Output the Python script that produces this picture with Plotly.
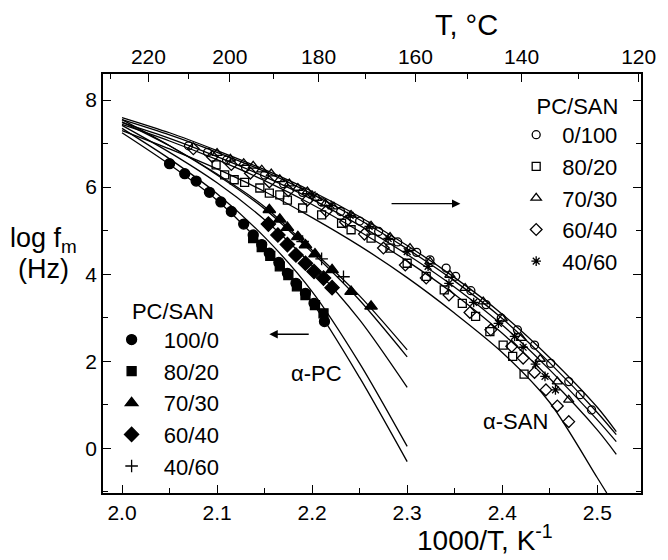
import plotly.graph_objects as go

FONT = "Liberation Sans, Arial, sans-serif"
NB = "\u00a0"

# ---------------- data ----------------
# fitted curves (alpha-PC family)
pc_line_x = [2.0, 2.05, 2.1, 2.15, 2.2, 2.25, 2.3]
pc_line_100_0 = [7.25, 6.52, 5.70, 4.62, 3.35, 1.62, -0.31]
pc_line_80_20 = [7.35, 6.65, 5.85, 4.85, 3.60, 1.95, 0.04]
pc_line_70_30 = [7.50, 6.95, 6.30, 5.55, 4.55, 3.50, 2.26]
pc_line_60_40 = [7.42, 6.80, 6.10, 5.25, 4.20, 2.95, 1.40]
pc_line_40_60 = [7.55, 6.95, 6.28, 5.50, 4.50, 3.40, 2.10]

# fitted curves (alpha-SAN family)
san_line_x = [2.0, 2.05, 2.1, 2.15, 2.2, 2.25, 2.3, 2.35, 2.4, 2.45, 2.5, 2.52]
san_line_0_100 = [7.60, 7.25, 6.84, 6.40, 5.90, 5.32, 4.66, 3.92, 3.08, 2.08, 0.94, 0.38]
san_line_70_30 = [7.55, 7.20, 6.80, 6.36, 5.84, 5.25, 4.58, 3.84, 2.98, 1.96, 0.82, 0.31]
san_line_40_60 = [7.48, 7.12, 6.70, 6.24, 5.72, 5.12, 4.45, 3.70, 2.83, 1.80, 0.65, 0.15]
san_line_60_40 = [7.44, 7.06, 6.63, 6.15, 5.60, 4.98, 4.30, 3.53, 2.64, 1.60, 0.42, -0.14]
san_line_80_20_x = [2.0, 2.05, 2.1, 2.15, 2.2, 2.25, 2.3, 2.35, 2.4, 2.45, 2.5, 2.51]
san_line_80_20 = [7.30, 6.88, 6.42, 5.90, 5.30, 4.65, 3.92, 3.10, 2.20, 1.05, -0.68, -1.03]

# alpha-PC data (filled symbols)
pc100_x = [2.050, 2.066, 2.078, 2.092, 2.104, 2.115, 2.128, 2.138, 2.147, 2.155, 2.165, 2.174, 2.183, 2.193, 2.202, 2.213]
pc100_y = [6.54, 6.31, 6.14, 5.88, 5.66, 5.44, 5.15, 4.90, 4.68, 4.48, 4.27, 4.02, 3.79, 3.56, 3.33, 2.91]
pc80_x = [2.138, 2.147, 2.156, 2.166, 2.175, 2.184, 2.193, 2.203, 2.212]
pc80_y = [4.83, 4.62, 4.42, 4.18, 3.98, 3.72, 3.52, 3.29, 3.10]
pc70_x = [2.155, 2.166, 2.174, 2.185, 2.193, 2.203, 2.221, 2.241, 2.262]
pc70_y = [5.48, 5.26, 5.07, 4.86, 4.67, 4.46, 4.10, 3.60, 3.26]
pc60_x = [2.154, 2.164, 2.174, 2.183, 2.193, 2.202, 2.212, 2.221]
pc60_y = [5.15, 4.90, 4.68, 4.44, 4.25, 4.06, 3.91, 3.69]
pc40_x = [2.190, 2.210, 2.233]
pc40_y = [4.75, 4.35, 3.94]

# alpha-SAN data (open symbols)
san0_x = [2.070, 2.090, 2.110, 2.130, 2.150, 2.170, 2.190, 2.210, 2.230, 2.250, 2.270, 2.290, 2.310,
          2.324, 2.341, 2.351, 2.367, 2.383, 2.399, 2.416, 2.434, 2.451, 2.470, 2.482, 2.494]
san0_y = [6.95, 6.80, 6.62, 6.45, 6.28, 6.08, 5.88, 5.66, 5.44, 5.22, 4.98, 4.74, 4.50,
          4.33, 4.14, 3.95, 3.62, 3.30, 2.99, 2.72, 2.37, 1.95, 1.53, 1.23, 0.88]
san80_x = [2.099, 2.108, 2.118, 2.129, 2.145, 2.155, 2.166, 2.174, 2.190, 2.210, 2.231, 2.241,
           2.262, 2.282, 2.300, 2.320, 2.339, 2.358, 2.372, 2.387, 2.401, 2.411, 2.423]
san80_y = [6.51, 6.28, 6.17, 6.11, 5.98, 5.86, 5.82, 5.70, 5.52, 5.36, 5.17, 5.02,
           4.83, 4.60, 4.25, 3.95, 3.64, 3.33, 3.03, 2.68, 2.37, 2.11, 1.70]
san70_x = [2.100, 2.114, 2.128, 2.138, 2.147, 2.157, 2.166, 2.176, 2.185, 2.195, 2.205, 2.214, 2.222,
           2.241, 2.262, 2.282, 2.303, 2.324, 2.345, 2.361, 2.380, 2.400, 2.420, 2.440, 2.458, 2.470]
san70_y = [6.78, 6.65, 6.55, 6.49, 6.40, 6.31, 6.18, 6.08, 5.98, 5.90, 5.75, 5.62, 5.55,
           5.36, 5.11, 4.85, 4.60, 4.29, 3.98, 3.68, 3.37, 2.98, 2.53, 2.05, 1.53, 1.11]
san60_x = [2.075, 2.095, 2.115, 2.135, 2.155, 2.175, 2.195, 2.215, 2.235, 2.255, 2.275, 2.298,
           2.320, 2.344, 2.366, 2.388, 2.410, 2.422, 2.434, 2.446, 2.458, 2.470]
san60_y = [6.88, 6.70, 6.52, 6.32, 6.12, 5.92, 5.70, 5.45, 5.20, 4.92, 4.60, 4.21,
           3.91, 3.52, 3.12, 2.72, 2.34, 2.07, 1.74, 1.34, 0.97, 0.61]
san40_x = [2.200, 2.220, 2.240, 2.260, 2.280, 2.300, 2.322, 2.344, 2.370, 2.396, 2.413, 2.422, 2.435, 2.445, 2.456]
san40_y = [5.82, 5.58, 5.35, 5.10, 4.82, 4.52, 4.18, 3.79, 3.35, 2.87, 2.57, 2.32, 1.93, 1.65, 1.34]

# axis ticks
x_tickvals = [2.0, 2.1, 2.2, 2.3, 2.4, 2.5]
x_ticktext = ["2.0", "2.1", "2.2", "2.3", "2.4", "2.5"]
y_tickvals = [0, 2, 4, 6, 8]
top_T_major = [220, 200, 180, 160, 140, 120]
top_T_minor = [230, 210, 190, 170, 150, 130]

X_RANGE = [1.98, 2.546]
Y_RANGE = [-1.03, 8.6]

# ---------------- figure ----------------
fig = go.Figure()

line_style = dict(color="black", width=1.3, shape="spline", smoothing=0.8)
for xs, ys in [(pc_line_x, pc_line_100_0), (pc_line_x, pc_line_80_20), (pc_line_x, pc_line_70_30),
               (pc_line_x, pc_line_60_40), (pc_line_x, pc_line_40_60),
               (san_line_x, san_line_70_30), (san_line_x, san_line_40_60),
               (san_line_x, san_line_60_40), (san_line_80_20_x, san_line_80_20)]:
    fig.add_trace(go.Scatter(x=xs, y=ys, mode="lines", line=line_style,
                             showlegend=False, hoverinfo="skip"))
# one curve drawn on the top (temperature) axis so that it is rendered
fig.add_trace(go.Scatter(x=san_line_x, y=san_line_0_100, mode="lines", line=line_style,
                         xaxis="x2", yaxis="y", showlegend=False, hoverinfo="skip"))

open_series = [
    ("0/100", san0_x, san0_y, "circle-open", 8),
    ("80/20", san80_x, san80_y, "square-open", 8),
    ("70/30", san70_x, san70_y, "triangle-up-open", 9),
    ("60/40", san60_x, san60_y, "diamond-open", 9),
    ("40/60", san40_x, san40_y, "asterisk-open", 8),
]
for name, xs, ys, sym, sz in open_series:
    fig.add_trace(go.Scatter(x=xs, y=ys, mode="markers", name=NB + name, legend="legend",
                             marker=dict(symbol=sym, size=sz, color="black",
                                         line=dict(color="black", width=1.3))))

filled_series = [
    ("100/0", pc100_x, pc100_y, "circle", 10),
    ("80/20", pc80_x, pc80_y, "square", 9),
    ("70/30", pc70_x, pc70_y, "triangle-up", 11),
    ("60/40", pc60_x, pc60_y, "diamond", 11),
    ("40/60", pc40_x, pc40_y, "cross-thin-open", 9),
]
for name, xs, ys, sym, sz in filled_series:
    fig.add_trace(go.Scatter(x=xs, y=ys, mode="markers", name=NB * 2 + name, legend="legend2",
                             marker=dict(symbol=sym, size=sz, color="black",
                                         line=dict(color="black", width=1.3))))

tick_font = dict(family=FONT, size=21, color="black")
axis_common = dict(showline=True, linecolor="black", linewidth=1.5, showgrid=False,
                   zeroline=False, ticks="inside", ticklen=8, tickwidth=1.3,
                   tickcolor="black", tickfont=tick_font)

top_major_vals = [1000.0 / (t + 273.15) for t in top_T_major]
top_minor_vals = [1000.0 / (t + 273.15) for t in top_T_minor]

legend_font = dict(family=FONT, size=22, color="black")

fig.update_layout(
    width=668, height=560,
    margin=dict(l=103, r=16, t=74, b=67),
    paper_bgcolor="white", plot_bgcolor="white",
    font=dict(family=FONT, color="black"),
    xaxis=dict(range=X_RANGE, tickvals=x_tickvals, ticktext=x_ticktext,
               minor=dict(dtick=0.05, tick0=2.0, ticks="inside", ticklen=5, tickwidth=1.2,
                          tickcolor="black"),
               **axis_common),
    xaxis2=dict(range=X_RANGE, overlaying="x", side="top", tickmode="array",
                tickvals=top_major_vals, ticktext=[str(t) for t in top_T_major],
                minor=dict(tickmode="array", tickvals=top_minor_vals, ticks="inside",
                           ticklen=5, tickwidth=1.2, tickcolor="black"),
                **axis_common),
    yaxis=dict(range=Y_RANGE, tickvals=y_tickvals, mirror="ticks",
               minor=dict(dtick=1, tick0=0, ticks="inside", ticklen=5, tickwidth=1.2,
                          tickcolor="black"),
               **axis_common),
    legend=dict(x=0.768, y=0.973, xanchor="left", yanchor="top",
                title=dict(text=NB * 3 + "PC/SAN", font=legend_font),
                font=legend_font, bgcolor="rgba(0,0,0,0)",
                itemsizing="trace", tracegroupgap=0),
    legend2=dict(x=0.016, y=0.484, xanchor="left", yanchor="top",
                 title=dict(text=NB * 3 + "PC/SAN", font=legend_font),
                 font=legend_font, bgcolor="rgba(0,0,0,0)",
                 itemsizing="trace", tracegroupgap=0),
    annotations=[
        dict(text="1000/T, K<sup>-1</sup>", xref="paper", yref="paper", x=0.71, y=-0.108,
             xanchor="center", yanchor="middle", showarrow=False,
             font=dict(size=28, family=FONT)),
        dict(text="T, °C", xref="paper", yref="paper", x=0.676, y=1.117,
             xanchor="center", yanchor="middle", showarrow=False,
             font=dict(size=29, family=FONT)),
        dict(text="log f<sub>m</sub>", xref="paper", yref="paper", x=-0.111, y=0.605,
             xanchor="center", yanchor="middle", showarrow=False,
             font=dict(size=27, family=FONT)),
        dict(text="(Hz)", xref="paper", yref="paper", x=-0.111, y=0.535,
             xanchor="center", yanchor="middle", showarrow=False,
             font=dict(size=27, family=FONT)),
        dict(text="α-PC", x=2.205, y=1.72, xref="x", yref="y", showarrow=False,
             xanchor="center", yanchor="middle", font=dict(size=22, family=FONT)),
        dict(text="α-SAN", x=2.414, y=0.61, xref="x", yref="y", showarrow=False,
             xanchor="center", yanchor="middle", font=dict(size=22, family=FONT)),
        dict(text="", x=2.356, y=5.62, ax=2.282, ay=5.62, xref="x", yref="y",
             axref="x", ayref="y", showarrow=True, arrowhead=2, arrowsize=1.2,
             arrowwidth=1.4, arrowcolor="black"),
        dict(text="", x=2.155, y=2.62, ax=2.198, ay=2.62, xref="x", yref="y",
             axref="x", ayref="y", showarrow=True, arrowhead=2, arrowsize=1.2,
             arrowwidth=1.4, arrowcolor="black"),
    ],
)

fig.write_html("out.html", config={"displayModeBar": False},
               post_script="document.body.style.margin='0px';document.body.style.padding='0px';"
                           "document.body.style.overflow='hidden';")
